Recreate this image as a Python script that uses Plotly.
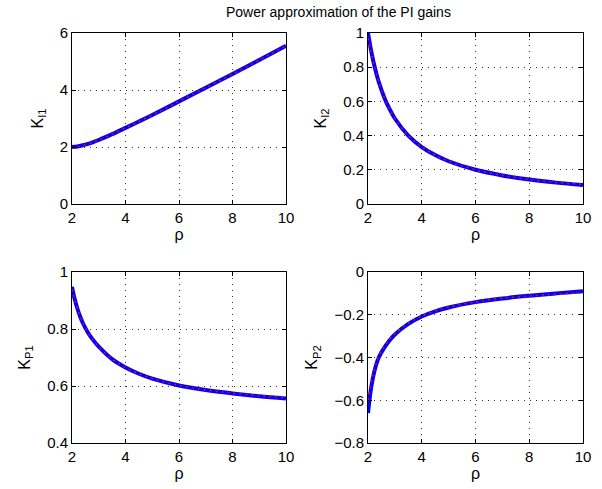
import plotly.graph_objects as go

rho = [2, 2.1, 2.2, 2.3, 2.4, 2.6, 2.8, 3, 3.5, 4, 4.5, 5, 6, 7, 8, 9, 10]

KI1 = [2.0, 2.005, 2.015, 2.035, 2.06, 2.11, 2.175, 2.245, 2.45, 2.67, 2.895, 3.125, 3.6, 4.08, 4.56, 5.05, 5.55]
KI2 = [1.0, 0.91, 0.833, 0.77, 0.714, 0.625, 0.556, 0.5, 0.4, 0.333, 0.286, 0.25, 0.2, 0.167, 0.143, 0.125, 0.111]
KP1 = [0.948, 0.905, 0.872, 0.845, 0.822, 0.787, 0.76, 0.738, 0.694, 0.665, 0.643, 0.626, 0.602, 0.586, 0.574, 0.564, 0.556]
KP2 = [-0.66, -0.555, -0.485, -0.435, -0.40, -0.355, -0.32, -0.292, -0.243, -0.208, -0.184, -0.166, -0.141, -0.124, -0.111, -0.10, -0.09]

KI1_fit = [1.96, 1.985, 2.005, 2.03, 2.055, 2.11, 2.175, 2.245, 2.45, 2.67, 2.895, 3.125, 3.6, 4.08, 4.56, 5.05, 5.55]
KI2_fit = [0.97, 0.9, 0.83, 0.77, 0.714, 0.625, 0.556, 0.5, 0.4, 0.333, 0.286, 0.25, 0.2, 0.167, 0.143, 0.126, 0.115]
KP1_fit = [0.94, 0.902, 0.871, 0.845, 0.822, 0.787, 0.76, 0.738, 0.694, 0.665, 0.643, 0.626, 0.602, 0.586, 0.575, 0.566, 0.559]
KP2_fit = [-0.60, -0.53, -0.475, -0.43, -0.395, -0.348, -0.315, -0.287, -0.24, -0.206, -0.182, -0.164, -0.14, -0.123, -0.112, -0.104, -0.097]

panels = [
    ("K<sub>I1</sub>", KI1, KI1_fit, [0, 6], [0, 2, 4, 6], ["0", "2", "4", "6"]),
    ("K<sub>I2</sub>", KI2, KI2_fit, [0, 1], [0, 0.2, 0.4, 0.6, 0.8, 1], ["0", "0.2", "0.4", "0.6", "0.8", "1"]),
    ("K<sub>P1</sub>", KP1, KP1_fit, [0.4, 1], [0.4, 0.6, 0.8, 1], ["0.4", "0.6", "0.8", "1"]),
    ("K<sub>P2</sub>", KP2, KP2_fit, [-0.8, 0], [-0.8, -0.6, -0.4, -0.2, 0], ["\u22120.8", "\u22120.6", "\u22120.4", "\u22120.2", "0"]),
]

W, H = 602, 489
xdoms = [(72 / W, 286 / W), (368 / W, 583 / W)]
ydoms = [((H - 204) / H, (H - 33) / H), ((H - 443) / H, (H - 272) / H)]

fig = go.Figure()
FAM = "Liberation Sans, Arial, Helvetica, sans-serif"
tickfont = dict(family=FAM, size=15, color="black")
titlefont = dict(family=FAM, size=16, color="black")

for i, (lab, y, yfit, yr, tv, tt) in enumerate(panels):
    r, c = divmod(i, 2)
    n = "" if i == 0 else str(i + 1)
    xa, ya = "x" + n, "y" + n
    fig.add_trace(go.Scatter(x=rho, y=y, mode="lines", line=dict(color="blue", width=4, shape="spline"),
                             xaxis=xa, yaxis=ya, showlegend=False))
    fig.add_trace(go.Scatter(x=rho, y=yfit, mode="lines",
                             line=dict(color="red", width=1.5, dash="2px,4px", shape="spline"),
                             xaxis=xa, yaxis=ya, showlegend=False))
    axcommon = dict(showline=True, mirror="ticks", linecolor="black", linewidth=1,
                    ticks="inside", ticklen=4, tickcolor="black", automargin=False,
                    showgrid=True, gridcolor="#333333", griddash="1px,5px", gridwidth=1,
                    zeroline=False, tickfont=tickfont)
    fig.update_layout(**{
        "xaxis" + n: dict(domain=xdoms[c], range=[2, 10], tickvals=[2, 4, 6, 8, 10],
                          anchor=ya, title=dict(text="\u03c1", font=titlefont, standoff=3), **axcommon),
        "yaxis" + n: dict(domain=ydoms[r], range=yr, tickvals=tv, ticktext=tt,
                          anchor=xa, title=dict(text=lab, font=titlefont, standoff=12), **axcommon),
    })

fig.add_annotation(text="Power approximation of the PI gains", x=338 / W, y=1 - 12 / H,
                   xref="paper", yref="paper", showarrow=False, yanchor="middle",
                   font=dict(family=FAM, size=14, color="black"))

fig.update_layout(width=W, height=H, margin=dict(l=0, r=0, t=0, b=0, autoexpand=False),
                  plot_bgcolor="white", paper_bgcolor="white")

fig.write_html("out.html", config={"displayModeBar": False},
               post_script="document.body.style.margin='0';document.body.style.overflow='hidden';")
